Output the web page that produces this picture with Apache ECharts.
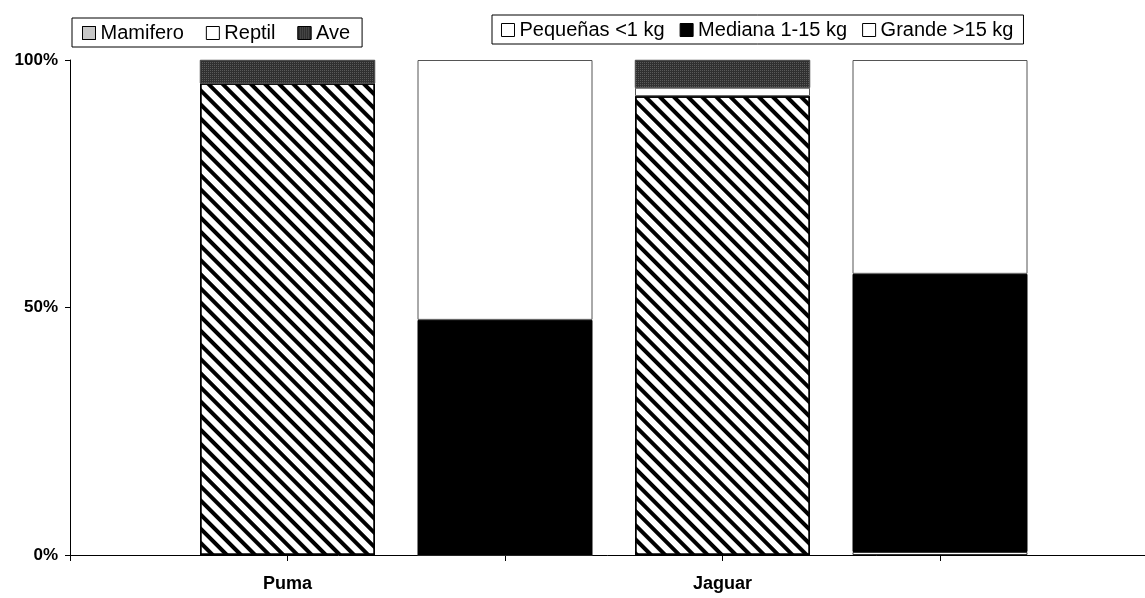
<!DOCTYPE html>
<html>
<head>
<meta charset="utf-8">
<title>Dieta de Puma y Jaguar</title>
<script src="https://cdn.jsdelivr.net/npm/echarts@6/dist/echarts.min.js"></script>
<style>
  html, body { margin: 0; padding: 0; background: #fff; overflow: hidden; }
  #chart { width: 1145px; height: 598px; }
</style>
</head>
<body>
<div id="chart"></div>
<script>
// Axis slots: slot 1 = Puma, slot 3 = Jaguar; slots 2 and 4 hold the prey-size bars
const slotLabels = ['', 'Puma', '', 'Jaguar', '', ''];
const tipoSlots = [1, 3];
const tamSlots = [2, 4];

// Prey type (%)
const mamifero = [95.3, 92.7];
const reptil = [0, 1.7];
const ave = [4.7, 5.6];

// Prey size (%)
const pequenas = [0, 0.6];
const mediana = [47.5, 56.2];
const grande = [52.5, 43.2];

const yTicks = [0, 50, 100];

// Spread a two-value series over the axis slots, '-' where a slot is empty
function toSlots(slots, values) {
  const out = slotLabels.map(() => '-');
  slots.forEach((s, i) => { out[s] = values[i]; });
  return out;
}

const stripeDecal = {
  symbol: 'rect', symbolSize: 1,
  dashArrayX: [1, 0], dashArrayY: [3.2, 5.3],
  rotation: Math.PI / 4, color: '#000'
};
const lightDots = {
  symbol: 'rect', symbolSize: 1,
  dashArrayX: [1, 1], dashArrayY: [1, 1], color: '#8a8a8a'
};
const darkDots = {
  symbol: 'rect', symbolSize: 1,
  dashArrayX: [1, 1], dashArrayY: [1, 1], color: '#5a5a5a'
};

const chart = echarts.init(document.getElementById('chart'));

const font = 'Liberation Sans, Arial, sans-serif';
const legendText = { fontFamily: font, fontSize: 20, color: '#000' };

chart.setOption({
  animation: false,
  backgroundColor: '#fff',
  // one slot = 217.5 px; the last slot runs past the right edge like the axis line does
  grid: { left: 70, width: 1087.5, top: 60, bottom: 43, outerBoundsMode: 'none', containLabel: false },
  legend: [
    {
      left: 72, top: 18,
      orient: 'horizontal',
      itemWidth: 13, itemHeight: 13, itemGap: 22,
      padding: [5, 12, 4, 10],
      borderColor: '#000', borderWidth: 1,
      icon: 'rect',
      textStyle: legendText,
      itemStyle: { borderColor: '#000', borderWidth: 1 },
      data: [
        { name: 'Mamifero', itemStyle: { color: '#dcdcdc', decal: lightDots } },
        { name: 'Reptil', itemStyle: { color: '#fff' } },
        { name: 'Ave', itemStyle: { color: '#303030', decal: darkDots } }
      ]
    },
    {
      left: 492, top: 15,
      orient: 'horizontal',
      itemWidth: 13, itemHeight: 13, itemGap: 15,
      padding: [5, 10, 4, 9],
      borderColor: '#000', borderWidth: 1,
      icon: 'rect',
      textStyle: legendText,
      itemStyle: { borderColor: '#000', borderWidth: 1 },
      data: ['Pequeñas <1 kg', 'Mediana 1-15 kg', 'Grande >15 kg']
    }
  ],
  xAxis: {
    type: 'category',
    data: slotLabels,
    boundaryGap: false,
    splitLine: { show: false },
    axisLine: { show: true, lineStyle: { color: '#000', width: 1 } },
    axisTick: { show: true, length: 6, interval: 0, lineStyle: { color: '#000' } },
    axisLabel: {
      interval: 0,
      margin: 20,
      fontFamily: font,
      fontSize: 18, fontWeight: 'bold', color: '#000'
    }
  },
  yAxis: {
    type: 'value',
    min: 0, max: 100, interval: 50,
    splitLine: { show: false },
    axisLine: { show: true, lineStyle: { color: '#000', width: 1 } },
    axisTick: { show: true, length: 5, lineStyle: { color: '#000' } },
    axisLabel: {
      margin: 12,
      fontFamily: font,
      fontSize: 17, fontWeight: 'bold', color: '#000',
      formatter: v => yTicks.includes(v) ? v + '%' : ''
    }
  },
  series: [
    {
      name: 'Mamifero', type: 'bar', stack: 'tipo', barWidth: 175,
      data: toSlots(tipoSlots, mamifero),
      itemStyle: { color: '#fff', decal: stripeDecal, borderColor: '#000', borderWidth: 1.5 }
    },
    {
      name: 'Reptil', type: 'bar', stack: 'tipo', barWidth: 175,
      data: toSlots(tipoSlots, reptil),
      itemStyle: { color: '#fff', borderColor: '#555', borderWidth: 1 }
    },
    {
      name: 'Ave', type: 'bar', stack: 'tipo', barWidth: 175,
      data: toSlots(tipoSlots, ave),
      itemStyle: { color: '#303030', decal: darkDots, borderColor: '#444', borderWidth: 0.5 }
    },
    {
      name: 'Pequeñas <1 kg', type: 'bar', stack: 'tam', barWidth: 175,
      data: toSlots(tamSlots, pequenas),
      itemStyle: { color: '#fff', borderColor: '#333', borderWidth: 1 }
    },
    {
      name: 'Mediana 1-15 kg', type: 'bar', stack: 'tam', barWidth: 175,
      data: toSlots(tamSlots, mediana),
      itemStyle: { color: '#000', borderColor: '#000', borderWidth: 1 }
    },
    {
      name: 'Grande >15 kg', type: 'bar', stack: 'tam', barWidth: 175, barGap: '-100%',
      data: toSlots(tamSlots, grande),
      itemStyle: { color: '#fff', borderColor: '#555', borderWidth: 1 }
    }
  ]
});
</script>
</body>
</html>
